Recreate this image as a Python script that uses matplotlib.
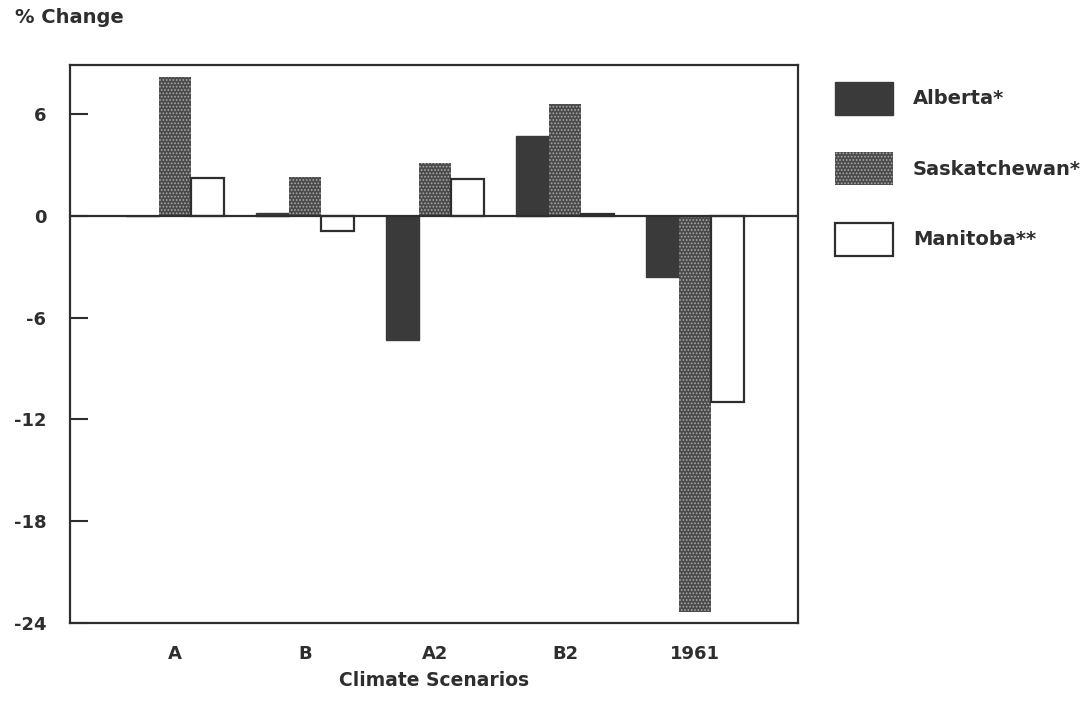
import matplotlib
matplotlib.use("Agg")
import matplotlib.pyplot as plt
from matplotlib.patches import Patch
import numpy as np

# Percent change by province under each climate scenario
scenarios = ["A", "B", "A2", "B2", "1961"]
alberta = [0.0, 0.15, -7.3, 4.7, -3.6]
saskatchewan = [8.2, 2.3, 3.1, 6.6, -23.35]
manitoba = [2.25, -0.9, 2.2, 0.1, -11.0]
series_labels = ["Alberta*", "Saskatchewan*", "Manitoba**"]
yticks = [-24, -18, -12, -6, 0, 6]

ink = "#2e2e2e"
alberta_col = "#3a3a3a"
sask_col = "#4b4b4b"

plt.rcParams["font.family"] = ["DejaVu Sans"]
plt.rcParams["font.weight"] = "bold"
plt.rcParams["axes.unicode_minus"] = False
plt.rcParams["hatch.color"] = "#a8a8a8"
plt.rcParams["hatch.linewidth"] = 0.8

fig = plt.figure(figsize=(10.88, 7.01), dpi=100)
ax = fig.add_axes([0.0643, 0.1113, 0.6691, 0.796])

x = np.arange(len(scenarios))
w = 0.25
ax.bar(x - w, alberta, w, color=alberta_col, edgecolor=alberta_col, linewidth=1.0)
ax.bar(x, saskatchewan, w, color=sask_col, hatch=".....", linewidth=0)
ax.bar(x + w, manitoba, w, facecolor="white", edgecolor=ink, linewidth=1.6)

ax.axhline(0, color=ink, linewidth=1.6, zorder=3)

ax.set_xlim(-0.808, 4.79)
ax.set_ylim(-24, 8.9)
ax.set_yticks(yticks)
ax.set_yticklabels([str(v) for v in yticks])
ax.set_xticks(x)
ax.set_xticklabels(scenarios)

ax.tick_params(axis="y", direction="in", length=13, width=1.5, color=ink,
               pad=17, labelsize=13, labelcolor=ink)
ax.tick_params(axis="x", length=0, pad=16, labelsize=13, labelcolor=ink)
for s in ax.spines.values():
    s.set_linewidth(1.6)
    s.set_color(ink)

fig.text(434 / 1088, 1 - 680 / 701, "Climate Scenarios", ha="center", va="center",
         fontsize=13.5, color=ink, fontweight="bold")
fig.text(15 / 1088, 1 - 17.5 / 701, "% Change", ha="left", va="center",
         fontsize=14, color=ink, fontweight="bold")

handles = [
    Patch(facecolor=alberta_col, edgecolor=alberta_col, linewidth=1.0),
    Patch(facecolor=sask_col, hatch="....."),
    Patch(facecolor="white", edgecolor=ink, linewidth=1.6),
]
fig.legend(handles, series_labels, loc="upper left",
           bbox_to_anchor=(835 / 1088, 1 - 82 / 701), frameon=False,
           fontsize=14, handlelength=3.0, handleheight=2.2,
           labelspacing=1.95, handletextpad=1.0, borderpad=0,
           borderaxespad=0, labelcolor=ink)

fig.savefig("out.png", dpi=100, facecolor="white")
